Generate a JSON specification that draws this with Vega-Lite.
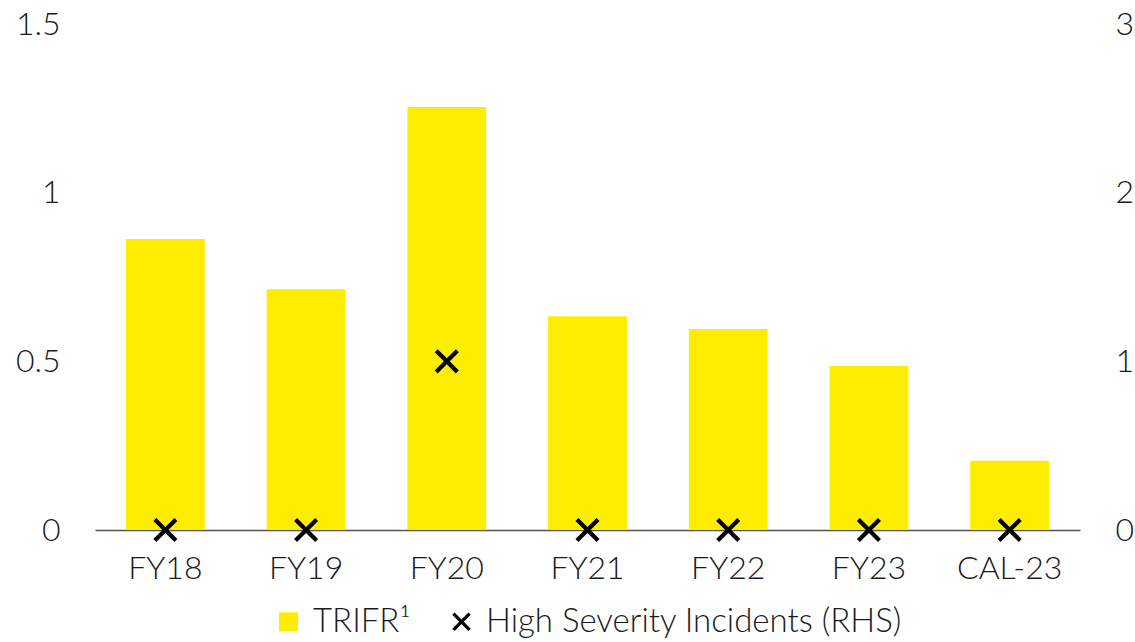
{
  "$schema": "https://vega.github.io/schema/vega-lite/v6.json",
  "width": 985,
  "height": 506,
  "autosize": {"type": "none"},
  "padding": {"left": 95, "top": 24, "right": 55, "bottom": 112},
  "background": "white",
  "config": {
    "view": {"stroke": null},
    "font": "Lato",
    "axis": {"labelFont": "Lato", "labelFontWeight": 300, "labelColor": "#1a1a1a", "labelFontSize": 32},
    "legend": {"labelFont": "Lato", "labelFontWeight": 300, "labelColor": "#1a1a1a", "labelFontSize": 33, "layout": {"bottom": {"anchor": "middle"}}}
  },
  "data": {
    "values": [
      {"period": "FY18", "trifr": 0.863, "hsi": 0},
      {"period": "FY19", "trifr": 0.714, "hsi": 0},
      {"period": "FY20", "trifr": 1.254, "hsi": 1},
      {"period": "FY21", "trifr": 0.634, "hsi": 0},
      {"period": "FY22", "trifr": 0.596, "hsi": 0},
      {"period": "FY23", "trifr": 0.486, "hsi": 0},
      {"period": "CAL-23", "trifr": 0.205, "hsi": 0}
    ]
  },
  "encoding": {
    "x": {
      "field": "period",
      "type": "nominal",
      "sort": null,
      "scale": {"paddingInner": 0.44, "paddingOuter": 0.22},
      "axis": {
        "title": null,
        "labelAngle": 0,
        "ticks": false,
        "labelPadding": 23,
        "domainColor": "#555555",
        "domainWidth": 1.5,
        "grid": false
      }
    }
  },
  "layer": [
    {
      "mark": {"type": "bar"},
      "encoding": {
        "y": {
          "field": "trifr",
          "type": "quantitative",
          "scale": {"domain": [0, 1.5], "nice": false},
          "axis": {
            "title": null,
            "orient": "left",
            "values": [0, 0.5, 1, 1.5],
            "format": "~g",
            "domain": false,
            "ticks": false,
            "grid": false,
            "labelPadding": 35
          }
        },
        "color": {
          "datum": "TRIFR¹",
          "type": "nominal",
          "scale": {"domain": ["TRIFR¹", "High Severity Incidents (RHS)"], "range": ["#FFED00", "#000000"]},
          "legend": {
            "title": null,
            "orient": "bottom",
            "direction": "horizontal",
            "symbolSize": 360,
            "symbolStrokeWidth": 0,
            "labelLimit": 800,
            "columnPadding": 34,
            "labelOffset": 8,
            "offset": 21
          }
        }
      }
    },
    {
      "mark": {"type": "point", "filled": true, "size": 620, "opacity": 1},
      "encoding": {
        "y": {
          "field": "hsi",
          "type": "quantitative",
          "scale": {"domain": [0, 3], "nice": false},
          "axis": {
            "title": null,
            "orient": "right",
            "values": [0, 1, 2, 3],
            "domain": false,
            "ticks": false,
            "grid": false,
            "labelPadding": 35
          }
        },
        "color": {
          "datum": "High Severity Incidents (RHS)",
          "type": "nominal"
        },
        "shape": {
          "datum": "High Severity Incidents (RHS)",
          "type": "nominal",
          "scale": {
            "domain": ["TRIFR¹", "High Severity Incidents (RHS)"],
            "range": ["square", "M0.728,-0.969L0.969,-0.728L0.24,0L0.969,0.728L0.728,0.969L0,0.24L-0.728,0.969L-0.969,0.728L-0.24,0L-0.969,-0.728L-0.728,-0.969L0,-0.24Z"]
          },
          "legend": {"title": null}
        }
      }
    }
  ],
  "resolve": {"scale": {"y": "independent"}}
}
